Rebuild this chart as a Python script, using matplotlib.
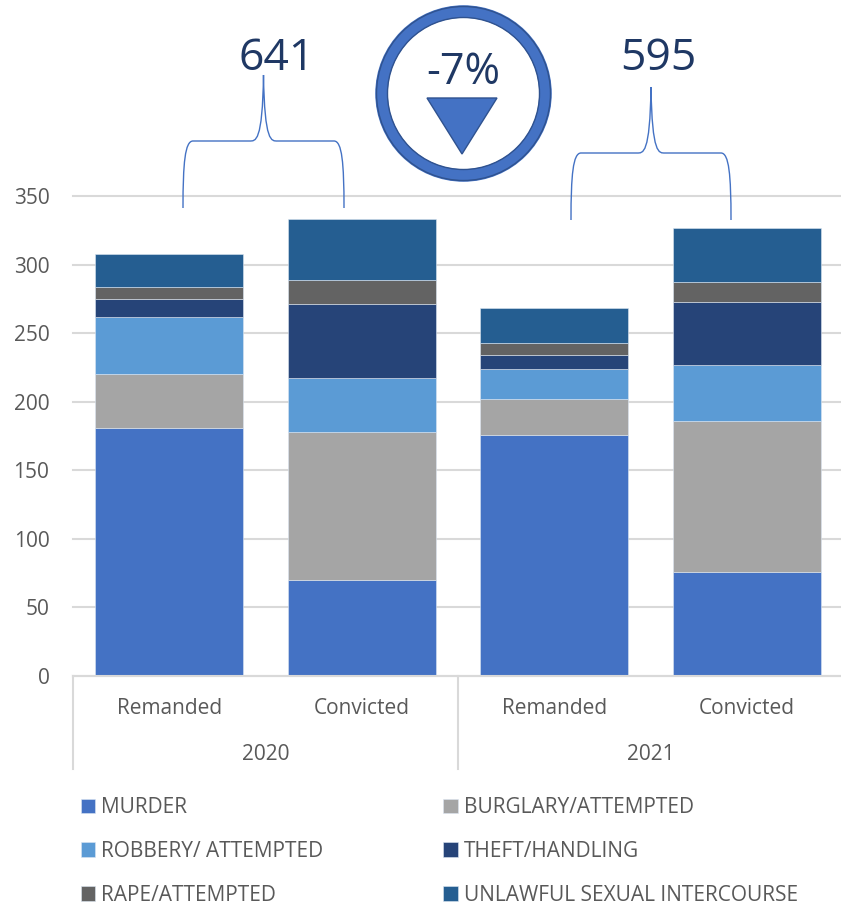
import numpy as np
import matplotlib.pyplot as plt
from matplotlib.patches import Circle, PathPatch, Polygon
from matplotlib.path import Path

plt.rcParams['font.family'] = ['Open Sans', 'DejaVu Sans']

W, H = 841, 906

groups = ['Remanded', 'Convicted', 'Remanded', 'Convicted']
years = ['2020', '2021']
totals = ['641', '595']
change = '-7%'

murder = [181, 70, 176, 76]
burglary = [39, 108, 26, 110]
robbery = [42, 39, 22, 41]
theft = [13, 54, 10, 46]
rape = [9, 18, 9, 14]
unlawful = [24, 44, 25, 40]

series = [murder, burglary, robbery, theft, rape, unlawful]
names = ['MURDER', 'BURGLARY/ATTEMPTED', 'ROBBERY/ ATTEMPTED',
         'THEFT/HANDLING', 'RAPE/ATTEMPTED', 'UNLAWFUL SEXUAL INTERCOURSE']
colors = ['#4472C4', '#A5A5A5', '#5B9BD5', '#264478', '#636363', '#255E91']

GREY = '#595959'
NAVY = '#1F3864'
BLUE = '#4472C4'


def brace(ov, left, right, bottom, top, tip):
	# curly bracket opening downwards, in pixel coordinates
	mid = (left + right) / 2
	verts = [(left, bottom), (left, top + 22), (left + 2, top), (left + 10, top),
	         (mid - 14, top), (mid - 8, top), (mid - 1, top + 2), (mid, tip),
	         (mid + 1, top + 2), (mid + 8, top), (mid + 14, top),
	         (right - 10, top), (right - 2, top), (right, top + 22), (right, bottom)]
	codes = [Path.MOVETO, Path.CURVE4, Path.CURVE4, Path.CURVE4,
	         Path.LINETO, Path.CURVE4, Path.CURVE4, Path.CURVE4,
	         Path.CURVE4, Path.CURVE4, Path.CURVE4,
	         Path.LINETO, Path.CURVE4, Path.CURVE4, Path.CURVE4]
	ov.add_patch(PathPatch(Path(verts, codes), facecolor='none', edgecolor=BLUE, linewidth=1))


fig = plt.figure(figsize=(W / 100, H / 100), dpi=100)

# plot area in pixels: x 73-843, y 196-676
ax = fig.add_axes([73 / W, (H - 676) / H, 770 / W, 480 / H])
x = np.arange(4)
bottom = np.zeros(4)
handles = []
for vals, name, c in zip(series, names, colors):
	b = ax.bar(x, vals, width=0.77, bottom=bottom, color=c, edgecolor='#DCE6F2', linewidth=0.4, label=name, zorder=3)
	handles.append(b)
	bottom += np.array(vals)

ax.set_xlim(-0.5, 3.5)
ax.set_ylim(0, 350)
ax.set_yticks(np.arange(0, 351, 50))
ax.yaxis.grid(True, color='#D9D9D9', linewidth=1.5, zorder=0, clip_on=False)
ax.set_xticks(x)
ax.set_xticklabels(groups)
ax.tick_params(axis='x', length=0, pad=16, labelsize=15, labelcolor=GREY)
ax.tick_params(axis='y', length=0, pad=17, labelsize=15, labelcolor=GREY)
for spine in ax.spines.values():
	spine.set_visible(False)

# legend fills column by column, the picture reads row by row
leg_order = [0, 2, 4, 1, 3, 5]
leg = fig.legend(handles=[handles[i] for i in leg_order], ncol=2, loc='upper left',
                 bbox_to_anchor=(81 / W, 1 - 797 / H), frameon=False, fontsize=15, labelcolor=GREY,
                 handlelength=0.68, handleheight=0.68, handletextpad=0.3, labelspacing=1.1,
                 columnspacing=5.75, borderaxespad=0, borderpad=0)

# overlay in pixels for the callouts and the two level axis
ov = fig.add_axes([0, 0, 1, 1], zorder=5)
ov.set_xlim(0, W)
ov.set_ylim(H, 0)
ov.axis('off')

ov.plot([73, 843], [676, 676], color='#D9D9D9', linewidth=1.5, clip_on=False)
for px in [73, 458]:
	ov.plot([px, px], [676, 769], color='#D9D9D9', linewidth=1.5, clip_on=False)
for px, yr in zip([266, 651], years):
	ov.text(px, 755, yr, ha='center', va='center', fontsize=15, color=GREY)

brace(ov, 183, 344, 208, 141, 75)
brace(ov, 571, 731, 220, 153, 87)
ov.text(277, 59, totals[0], ha='center', va='center', fontsize=32, color=NAVY)
ov.text(658, 59, totals[1], ha='center', va='center', fontsize=32, color=NAVY)

ov.add_patch(Circle((463.5, 93.5), 82, facecolor='white', edgecolor=BLUE, linewidth=9))
ov.add_patch(Circle((463.5, 93.5), 87, facecolor='none', edgecolor='#2F528F', linewidth=1))
ov.add_patch(Circle((463.5, 93.5), 76, facecolor='none', edgecolor='#2F528F', linewidth=1))
ov.text(463, 73, change, ha='center', va='center', fontsize=31, color=NAVY)
ov.add_patch(Polygon([(427, 98), (497, 98), (462, 154)], closed=True, facecolor=BLUE, edgecolor='#2F528F', linewidth=1))

fig.savefig('out.png', dpi=100)
